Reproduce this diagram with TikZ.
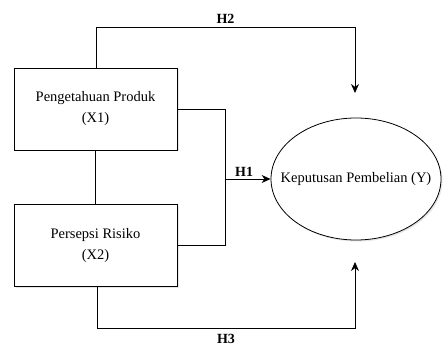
\documentclass[tikz,border=0pt]{standalone}
\usepackage{fontspec}
\setmainfont{Liberation Serif}
\usetikzlibrary{positioning,shapes.geometric,shadows,arrows.meta}
\tikzset{construct/.style={draw,thick,fill=white,minimum width=163pt,minimum height=82pt,align=center,font=\fontsize{14.5}{21}\selectfont,drop shadow={opacity=0.2,shadow xshift=1.5pt,shadow yshift=-1.5pt}}}
\tikzset{outcome/.style={construct,ellipse,minimum width=170pt,minimum height=122pt,inner sep=0pt}}
\tikzset{link/.style={draw,thick}}
\tikzset{effect/.style={link,-{Stealth[length=9pt,width=8pt]}}}
\tikzset{hyp/.style={font=\fontsize{14}{16}\selectfont\bfseries}}

\begin{document}
\begin{tikzpicture}[x=1pt,y=-1pt]
    \useasboundingbox (0,0) rectangle (443,347);
    % variables
    \node[construct] (x1) at (95.5,109) {Pengetahuan Produk\\(X1)};
    \node[construct] (x2) at (95.5,245.5) {Persepsi Risiko\\(X2)};
    \node[outcome] (y) at (356,179) {\makebox[0pt]{Keputusan Pembelian (Y)}};
    \path[link] (x1) -- (x2);
    % H1
    \coordinate (j1) at (225,109);
    \coordinate (j2) at (225,245);
    \coordinate (j) at (225,179);
    \path[link] (x1.east |- j1) -- (j1) -- (j2) -- (x2.east |- j2);
    \path[effect] (j) -- node[hyp,above=-1pt,pos=0.42] {H1} (y);
    % H2
    \coordinate (h2a) at (96,27);
    \coordinate (h2b) at (355,27);
    \coordinate (h2c) at (355,93);
    \path[effect] (x1.north -| h2a) -- (h2a) -- node[hyp,above=0pt] {H2} (h2b) -- (h2c);
    % H3
    \coordinate (h3a) at (97,328);
    \coordinate (h3b) at (355,328);
    \coordinate (h3c) at (355,262);
    \path[effect] (x2.south -| h3a) -- (h3a) -- node[hyp,below=2.5pt] {H3} (h3b) -- (h3c);
\end{tikzpicture}
\end{document}
